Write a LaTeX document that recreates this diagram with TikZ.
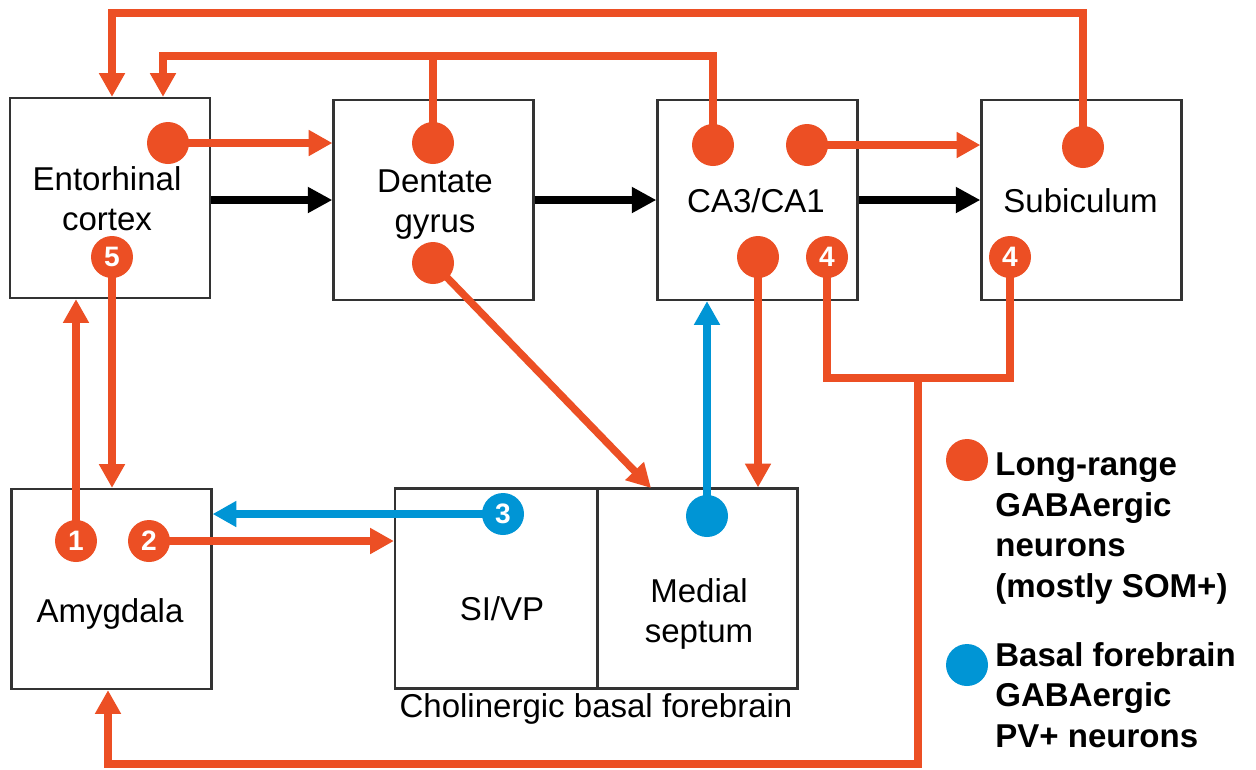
\documentclass[tikz,border=0pt]{standalone}
\usepackage{fontspec}
\setmainfont{Liberation Sans}
\usetikzlibrary{arrows.meta}
\definecolor{org}{RGB}{236,79,36}
\definecolor{blu}{RGB}{0,149,213}
\pgfdeclarelayer{bg}
\pgfsetlayers{bg,main}
\begin{document}
\begin{tikzpicture}[x=0.02cm,y=-0.02cm,
  box/.style={draw=black!80,line width=1.3pt,minimum width=4cm,minimum height=4cm,inner sep=0pt},
  lbl/.style={inner sep=0pt,align=center,font=\fontsize{18.8pt}{22.5pt}\selectfont},
  leg/.style={inner sep=0pt,align=left,font=\bfseries\fontsize{18.8pt}{23pt}\selectfont},
  dot/.style={circle,fill=org,minimum size=0.84cm,inner sep=0pt},
  num/.style={dot,text=white,font=\bfseries\fontsize{16pt}{16pt}\selectfont},
  bdot/.style={dot,fill=blu},
  bnum/.style={num,fill=blu},
  oline/.style={draw=org,line width=4.2pt},
  oarr/.style={oline,-{Triangle[length=13.5pt,width=14pt]}},
  barr/.style={draw=blu,line width=4.2pt,-{Triangle[length=13.5pt,width=14pt]}},
  karr/.style={draw=black,line width=4pt,-{Triangle[length=14pt,width=14pt]}}]
\useasboundingbox (0,0) rectangle (1256,769);
\begin{pgfonlayer}{bg}
\fill[white] (0,0) rectangle (1256,769);
\node[box] (ec) at (110,198) {};
\node[box] (dg) at (433.5,200) {};
\node[box] (ca) at (757.5,200) {};
\node[box] (sub) at (1081.5,200) {};
\node[box] (amyg) at (111.5,589) {};
\node[box,minimum width=4.04cm] (sivp) at (496,588.5) {};
\node[box] (ms) at (697.5,588.5) {};
\end{pgfonlayer}
% labels
\node[lbl,anchor=base] (ecL) at (107,230) {Entorhinal\\cortex};
\node[lbl,anchor=base] (dgL) at (435,232) {Dentate\\gyrus};
\node[lbl,anchor=base] (caL) at (756,212) {CA3/CA1};
\node[lbl,anchor=base] (subL) at (1080.5,212) {Subiculum};
\node[lbl,anchor=base] (amygL) at (110,622) {Amygdala};
\node[lbl,anchor=base] (sivpL) at (502,620) {SI/VP};
\node[lbl,anchor=base] (msL) at (699,642) {Medial\\septum};
\node[lbl,anchor=base] (cbf) at (596,717) {Cholinergic basal forebrain};
% neuron dots
\node[dot] (ecT) at (168,143) {};
\node[num] (ec5) at (112,257) {5};
\node[dot] (dgT) at (433,143) {};
\node[dot] (dgB) at (433,263) {};
\node[dot] (caTL) at (713,145) {};
\node[dot] (caTR) at (807,145) {};
\node[dot] (caBL) at (758,257) {};
\node[num] (ca4) at (827,257) {4};
\node[dot] (subT) at (1083,147) {};
\node[num] (sub4) at (1010,257) {4};
\node[num] (am1) at (76,541) {1};
\node[num] (am2) at (149,541) {2};
\node[bnum] (b3) at (503,514) {3};
\node[bdot] (msB) at (707,516) {};
% helper coordinates
\coordinate (t1) at (112,13);
\coordinate (t2) at (163,56);
\coordinate (j) at (918,378);
\coordinate (bl) at (108,764);
\coordinate (msIn) at (651,488);
\begin{pgfonlayer}{bg}
\draw[oarr] (subT.center) |- (t1) -- (t1 |- ec.north);
\draw[oarr] (caTL.center) |- (t2) -- (t2 |- ec.north);
\draw[oline] (dgT.center) -- (dgT.center |- t2);
\draw[oarr] (ecT.center) -- (ecT.center -| dg.west);
\draw[oarr] (caTR.center) -- (caTR.center -| sub.west);
\draw[karr] (ec.east |- dg.west) -- (dg.west);
\draw[karr] (dg.east) -- (ca.west);
\draw[karr] (ca.east) -- (sub.west);
\draw[oarr] (ec5.center) -- (ec5.center |- amyg.north);
\draw[oarr] (am1.center) -- (am1.center |- ec.south);
\draw[oarr] (am2.center) -- (am2.center -| sivp.west);
\draw[barr] (b3.center) -- (b3.center -| amyg.east);
\draw[oarr] (dgB.center) -- (msIn);
\draw[oarr] (caBL.center) -- (caBL.center |- ms.north);
\draw[barr] (msB.center) -- (msB.center |- ca.south);
\draw[oline] (ca4.center) |- (sub4.center |- j) -- (sub4.center);
\draw[oarr] (j) |- (bl) -- (bl |- amyg.south);
\end{pgfonlayer}
% legend
\node[dot] (lg1) at (967,460) {};
\node[leg,anchor=base west] (lg1t) at (995,597) {Long-range\\GABAergic\\neurons\\(mostly SOM+)};
\node[bdot] (lg2) at (967,665) {};
\node[leg,anchor=base west] (lg2t) at (995,747) {Basal forebrain\\GABAergic\\PV+ neurons};
\end{tikzpicture}
\end{document}
